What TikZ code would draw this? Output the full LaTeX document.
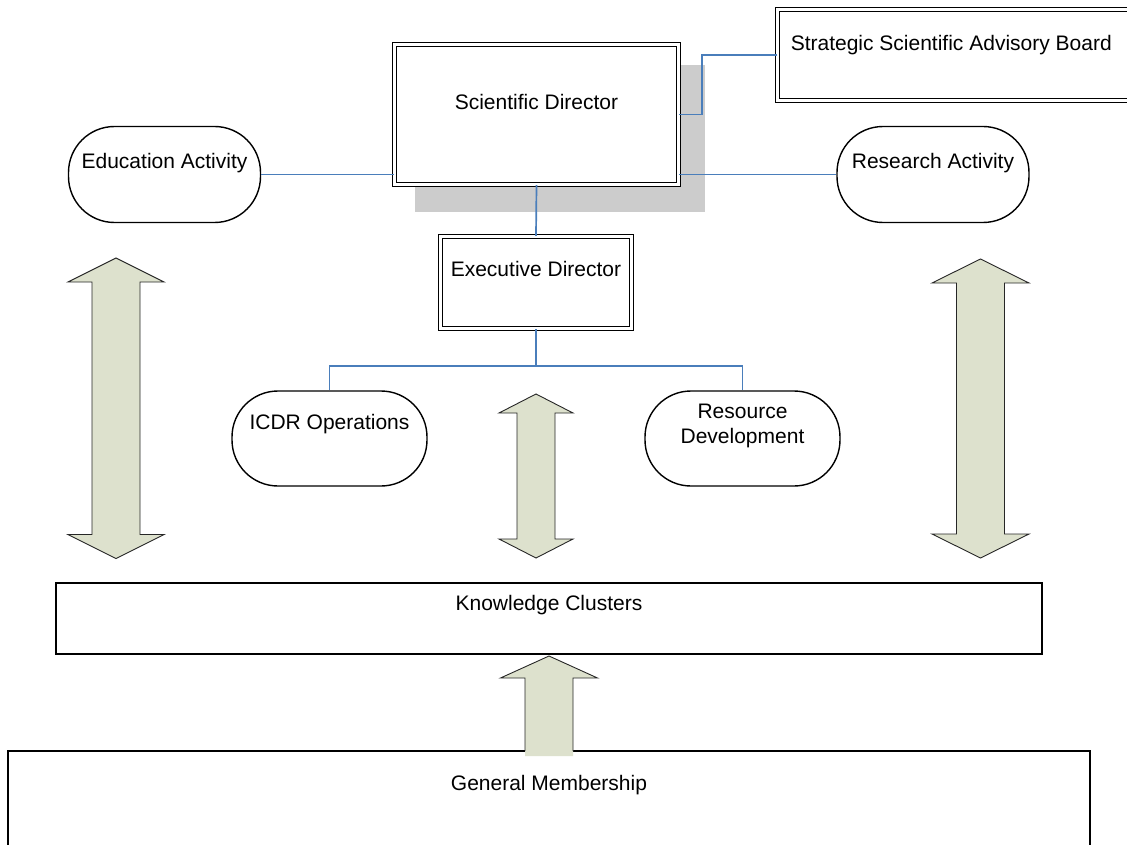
\documentclass[tikz,border=0pt]{standalone}
\usepackage{fontspec}
\setmainfont{Liberation Sans}
\definecolor{linkblue}{HTML}{4A7EBB}
\definecolor{arrowfill}{HTML}{DDE1CD}
\definecolor{shadowgray}{HTML}{CCCCCC}
% vertical two-headed block arrow: centre x, top tip y, head length, bottom tip y, head half-width, shaft half-width
\newcommand{\vdoublearrow}[6]{%
  \draw[blockarrow] (#1,#2) -- (#1+#5,#2+#3) -- (#1+#6,#2+#3) -- (#1+#6,#4-#3)
    -- (#1+#5,#4-#3) -- (#1,#4) -- (#1-#5,#4-#3) -- (#1-#6,#4-#3)
    -- (#1-#6,#2+#3) -- (#1-#5,#2+#3) -- cycle;}
\begin{document}
\begin{tikzpicture}[x=1pt,y=-1pt,
  txt/.style={font=\fontsize{21}{25}\selectfont, inner sep=0pt, align=center},
  plainbox/.style={draw=black, line width=1.5pt, fill=white, inner sep=0pt},
  dblbox/.style={draw=black, line width=1.3pt, double=white, double distance=2.6pt, fill=white, inner sep=0pt},
  pill/.style={draw=black, line width=1.4pt, fill=white, rounded corners=46pt, inner sep=0pt,
               minimum width=192pt, minimum height=96pt},
  link/.style={draw=linkblue, line width=1.7pt},
  blockarrow/.style={fill=arrowfill, draw=black!85, line width=0.9pt, line join=miter}]
\useasboundingbox (0,0) rectangle (1127,845);
\clip (0,0) rectangle (1127,845);

% drop shadow behind the Scientific Director
\fill[shadowgray] (415,65) rectangle (705,212);

% boxes
\node[dblbox, minimum width=284pt, minimum height=140pt,
      label={[txt,yshift=12.5pt]center:Scientific Director}] (sd) at (536.5,114.5) {};
\node[dblbox, minimum width=357.5pt, minimum height=91pt,
      label={[txt,xshift=-5pt,yshift=10pt]center:Strategic Scientific Advisory Board}] (ssab) at (956.25,55) {};
\node[pill, label={[txt,yshift=11.5pt]center:Education Activity}] (ea) at (164.5,174.5) {};
\node[pill, label={[txt,yshift=11.5pt]center:Research Activity}] (ra) at (933,174.5) {};
\node[dblbox, minimum width=191pt, minimum height=92pt,
      label={[txt,yshift=13.5pt]center:Executive Director}] (ed) at (536,282.5) {};
\node[pill, minimum width=195pt, minimum height=95pt,
      label={[txt,yshift=14.5pt]center:ICDR Operations}] (icdr) at (329.5,438.5) {};
\node[pill, minimum width=195pt, minimum height=95pt,
      label={[txt,yshift=13pt]center:Resource\\Development}] (rd) at (742.5,438.5) {};
\node[plainbox, minimum width=986pt, minimum height=71pt,
      label={[txt,yshift=13.5pt]center:Knowledge Clusters}] (kc) at (549,618.5) {};
\node[plainbox, minimum width=1082pt, minimum height=109pt,
      label={[txt,yshift=20.5pt]center:General Membership}] (gm) at (549,805.5) {};

% block arrows
\vdoublearrow{116}{258}{24}{558.5}{48}{24}
\vdoublearrow{980.5}{259}{24}{558}{48.5}{24}
\vdoublearrow{536}{394}{19}{558}{37}{19}
% upward arrow from General Membership into Knowledge Clusters
\fill[arrowfill] (549,656) -- (597.5,678) -- (573,678) -- (573,756) -- (525,756)
  -- (525,678) -- (500.5,678) -- cycle;
\draw[draw=black!85, line width=0.9pt, line join=miter] (525,751) -- (525,678) -- (500.5,678)
  -- (549,656) -- (597.5,678) -- (573,678) -- (573,751);

% connectors
\coordinate (hub) at (536,366);
\draw[link] (ea.east) -- (ea.east -| sd.west);
\draw[link] (sd.east |- ra.west) -- (ra.west);
\draw[link] (sd.east) -- ++(23,0) |- (ssab.west);
\draw[link] (sd.south) -- (ed.north);
\draw[link] (ed.south) -- (hub);
\draw[link] (icdr.north) |- (hub) -| (rd.north);
\end{tikzpicture}
\end{document}
